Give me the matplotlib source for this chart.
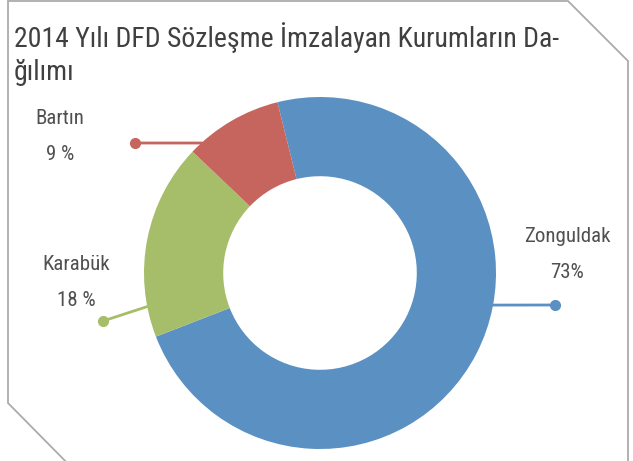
import matplotlib.pyplot as plt
import numpy as np

plt.rcParams['font.family'] = ['Roboto Condensed', 'DejaVu Sans']

# chart data
regions = ["Zonguldak", "Karabük", "Bartın"]
shares = [73, 18, 9]
share_labels = ["73%", "18 %", "9 %"]
colors = ["#5B90C3", "#A6BE6A", "#C6645E"]
title = "2014 Yılı DFD Sözleşme İmzalayan Kurumların Da-\nğılımı"

W, H = 633, 461
fig = plt.figure(figsize=(W / 100, H / 100), dpi=100)
ax = fig.add_axes([0, 0, 1, 1])

cx, cy, R = 320, H - 273, 176
wedges, _ = ax.pie(shares, colors=colors, startangle=104, counterclock=False,
                   center=(cx, cy), radius=R,
                   wedgeprops=dict(width=R * 0.45, edgecolor='none'))
ax.set_xlim(0, W)
ax.set_ylim(0, H)
ax.set_aspect('equal')
ax.axis('off')

# frame with cut corners (runs off the bottom of the picture)
frame_x = [84, 8, 8, 568, 628, 628]
frame_y = [480, 403, 1, 1, 61, 480]
ax.plot(frame_x, [H - y for y in frame_y], color='#ababab', lw=1.3,
        solid_joinstyle='miter')

# leader lines: (anchor angle on the ring, dot position, label position)
leaders = {
    "Zonguldak": (-10.5, (555, 305), (567, 236)),
    "Karabük": (191, (103, 321), (76, 264)),
    "Bartın": (132.4, (135, 143), (60, 118)),
}
for name, share_txt, col in zip(regions, share_labels, colors):
    ang, dot, lab = leaders[name]
    a = np.deg2rad(ang)
    x0, y0 = cx + R * np.cos(a), cy + R * np.sin(a)
    ax.plot([x0, dot[0]], [y0, H - dot[1]], color=col, lw=2)
    ax.plot(dot[0], H - dot[1], 'o', color=col, ms=7)
    ax.text(lab[0], H - lab[1], name, ha='center', va='center',
            fontsize=15, color='#505050')
    ax.text(lab[0], H - lab[1] - 37, share_txt, ha='center', va='center',
            fontsize=15, color='#505050')

ax.text(14, H - 22, title, ha='left', va='top', fontsize=20,
        color='#404040', linespacing=1.28)

fig.savefig("out.png", dpi=100)
